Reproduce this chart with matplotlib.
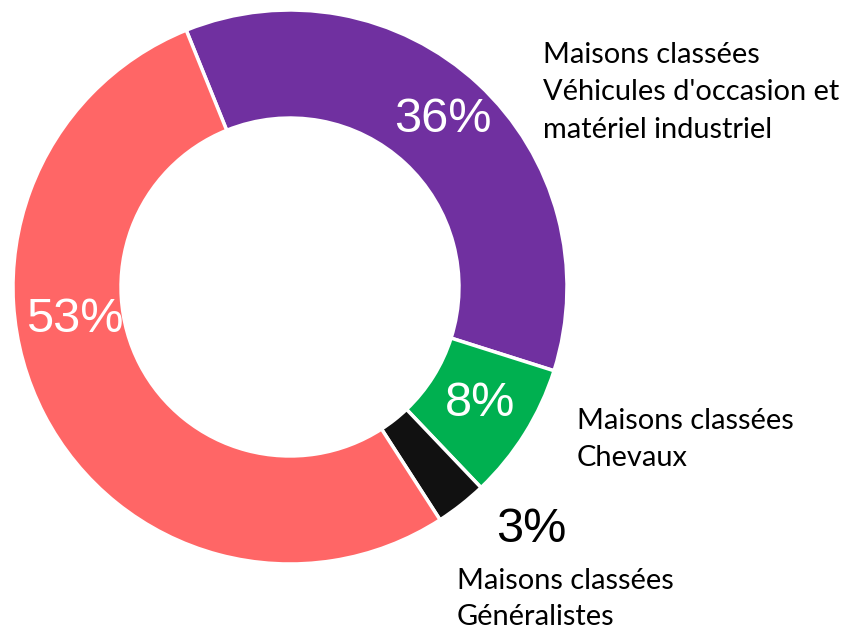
import matplotlib
matplotlib.use("Agg")
import matplotlib.pyplot as plt

# ---- data ----
categories = [
    "Maisons classées\nVéhicules d'occasion et\nmatériel industriel",
    "Maisons classées\nChevaux",
    "Maisons classées\nGénéralistes",
    "",
]
values = [36, 8, 3, 53]
pct_labels = ["36%", "8%", "3%", "53%"]
colors = ["#7030A0", "#00B050", "#111111", "#FF6666"]

W, H = 849, 630
fig = plt.figure(figsize=(W / 100, H / 100), dpi=100)

cx, cy, R = 290, 287, 277  # pixel center and radius
ax = fig.add_axes([(cx - R) / W, (H - cy - R) / H, 2 * R / W, 2 * R / H])
wedges, _ = ax.pie(values, colors=colors, startangle=112, counterclock=False,
                   radius=1.0,
                   wedgeprops=dict(width=0.39, edgecolor="white", linewidth=2.5))
ax.set_xlim(-1, 1)
ax.set_ylim(-1, 1)
ax.set_aspect("equal")
ax.axis("off")

def px(x, y):
    return x / W, 1 - y / H

# percentage labels (pixel centres)
pct_pos = [(443, 119), (480, 404), (531, 530), (75, 320)]
pct_col = ["white", "white", "black", "white"]
for t, (x, y), c in zip(pct_labels, pct_pos, pct_col):
    fig.text(*px(x, y), t, color=c, fontsize=35, family="Liberation Sans",
             ha="center", va="center")

# category labels: left x, first baseline y, line step
cat_pos = [(543, 63, 37.5), (577, 429, 37.5), (457, 589, 36)]
for lab, (x, y, step) in zip(categories[:3], cat_pos):
    for i, line in enumerate(lab.split("\n")):
        fig.text(*px(x, y + i * step), line, fontsize=20.9, family="Lato",
                 ha="left", va="baseline", color="black")

fig.savefig("out.png", dpi=100)
